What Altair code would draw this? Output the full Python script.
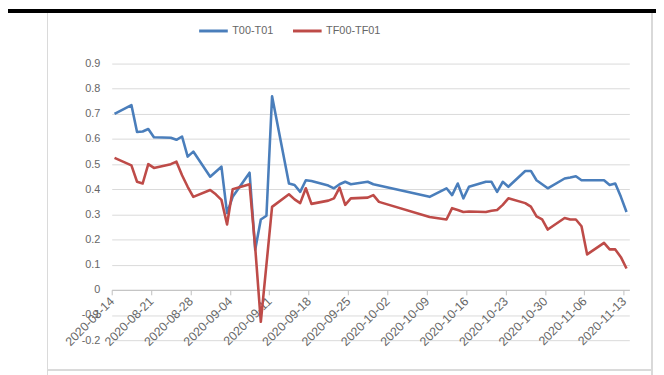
import altair as alt
import pandas as pd

# ---- data ----
dates = [
    "2020-08-14", "2020-08-17", "2020-08-18", "2020-08-19", "2020-08-20", "2020-08-21",
    "2020-08-24", "2020-08-25", "2020-08-26", "2020-08-27", "2020-08-28", "2020-08-31",
    "2020-09-01", "2020-09-02", "2020-09-03", "2020-09-04", "2020-09-07", "2020-09-08",
    "2020-09-09", "2020-09-10", "2020-09-11", "2020-09-14", "2020-09-15", "2020-09-16",
    "2020-09-17", "2020-09-18", "2020-09-21", "2020-09-22", "2020-09-23", "2020-09-24",
    "2020-09-25", "2020-09-28", "2020-09-29", "2020-09-30", "2020-10-09", "2020-10-12",
    "2020-10-13", "2020-10-14", "2020-10-15", "2020-10-16", "2020-10-19", "2020-10-20",
    "2020-10-21", "2020-10-22", "2020-10-23", "2020-10-26", "2020-10-27", "2020-10-28",
    "2020-10-29", "2020-10-30", "2020-11-02", "2020-11-03", "2020-11-04", "2020-11-05",
    "2020-11-06", "2020-11-09", "2020-11-10", "2020-11-11", "2020-11-12", "2020-11-13",
]
t00_t01 = [
    0.70, 0.735, 0.628, 0.63, 0.64, 0.607,
    0.605, 0.597, 0.61, 0.53, 0.55, 0.45,
    0.47, 0.49, 0.305, 0.37, 0.466, 0.16,
    0.28, 0.295, 0.77, 0.423, 0.417, 0.39,
    0.436, 0.433, 0.415, 0.404, 0.42, 0.43,
    0.42, 0.43, 0.42, 0.415, 0.37, 0.404,
    0.377, 0.423, 0.364, 0.41, 0.43, 0.43,
    0.39, 0.43, 0.41, 0.473, 0.473, 0.436,
    0.42, 0.404, 0.443, 0.447, 0.452, 0.436,
    0.436, 0.436, 0.417, 0.423, 0.37, 0.31,
]
tf00_tf01 = [
    0.525, 0.495, 0.43, 0.423, 0.50, 0.485,
    0.50, 0.51, 0.456, 0.41, 0.37, 0.397,
    0.38, 0.358, 0.26, 0.40, 0.42, 0.17,
    -0.127, 0.10, 0.33, 0.38, 0.36, 0.345,
    0.404, 0.342, 0.355, 0.364, 0.407, 0.338,
    0.364, 0.367, 0.377, 0.35, 0.29, 0.28,
    0.325, 0.318, 0.31, 0.312, 0.31, 0.315,
    0.318, 0.338, 0.364, 0.345, 0.331, 0.292,
    0.28, 0.24, 0.286, 0.28, 0.28, 0.253,
    0.141, 0.187, 0.161, 0.161, 0.13, 0.085,
]
series_names = ["T00-T01", "TF00-TF01"]
series_colors = ["#4A7EBB", "#BE4B48"]
x_tick_dates = [
    "2020-08-14", "2020-08-21", "2020-08-28", "2020-09-04", "2020-09-11", "2020-09-18",
    "2020-09-25", "2020-10-02", "2020-10-09", "2020-10-16", "2020-10-23", "2020-10-30",
    "2020-11-06", "2020-11-13",
]
y_ticks = [-0.2, -0.1, 0, 0.1, 0.2, 0.3, 0.4, 0.5, 0.6, 0.7, 0.8, 0.9]

# ---- table ----
rows = []
for name, vals in zip(series_names, [t00_t01, tf00_tf01]):
    for d, v in zip(dates, vals):
        rows.append({"date": d + "T12:00:00", "value": v, "series": name})
df = pd.DataFrame(rows)


def dt(s):
    y, m, d = (int(p) for p in s.split("-"))
    return alt.DateTime(year=y, month=m, date=d)


W, H = 524, 280
ymin, ymax = -0.2, 0.9
zero_px = H * (ymax - 0) / (ymax - ymin)
FONT = "Liberation Sans"
TXT = "#666666"

lines = alt.Chart(df).mark_line(strokeWidth=2.6, strokeJoin="round").encode(
    x=alt.X(
        "date:T",
        scale=alt.Scale(domain=[dt("2020-08-14"), dt("2020-11-14")]),
        axis=alt.Axis(
            title=None,
            values=[dt(s) for s in x_tick_dates],
            labelExpr="timeFormat(datum.value, '%Y-%m-%d')",
            labelAngle=-45,
            labelAlign="right",
            labelBaseline="middle",
            labelPadding=4,
            labelFontSize=12.5,
            labelColor=TXT,
            labelFont=FONT,
            grid=False,
            domainColor="#bfbfbf",
            tickColor="#bfbfbf",
            tickSize=5,
            offset=-(H - zero_px),
            labelOverlap=False,
        ),
    ),
    y=alt.Y(
        "value:Q",
        scale=alt.Scale(domain=[ymin, ymax], nice=False, zero=False),
        axis=alt.Axis(
            title=None,
            values=y_ticks,
            labelExpr="'' + (round(datum.value * 10) / 10)",
            domain=False,
            ticks=False,
            grid=True,
            gridColor="#d9d9d9",
            gridWidth=1,
            labelPadding=12,
            labelFontSize=11,
            labelColor=TXT,
            labelFont=FONT,
        ),
    ),
    color=alt.Color(
        "series:N",
        scale=alt.Scale(domain=series_names, range=series_colors),
        legend=alt.Legend(
            title=None,
            orient="none",
            legendX=87,
            legendY=-49,
            direction="horizontal",
            symbolType="stroke",
            symbolSize=841,
            symbolStrokeWidth=3,
            labelFontSize=11,
            labelColor=TXT,
            labelFont=FONT,
            labelOffset=3,
            columnPadding=13,
        ),
    ),
)

# decorative frame of the chart area and top rule
frame_left = alt.Chart(df).mark_rule(color="#d9d9d9", strokeWidth=1).encode(
    x=alt.value(-65), y=alt.value(-54), y2=alt.value(H + 40)
)
frame_right = alt.Chart(df).mark_rule(color="#d9d9d9", strokeWidth=1).encode(
    x=alt.value(W + 23), y=alt.value(-54), y2=alt.value(H + 40)
)
frame_bottom = alt.Chart(df).mark_rule(color="#d9d9d9", strokeWidth=1).encode(
    x=alt.value(-65), x2=alt.value(W + 23), y=alt.value(H + 30)
)
top_rule = alt.Chart(df).mark_rule(color="#000000", strokeWidth=3).encode(
    x=alt.value(-106), x2=alt.value(W + 30), y=alt.value(-53)
)

chart = (
    alt.layer(frame_left, frame_right, frame_bottom, top_rule, lines)
    .properties(
        width=W,
        height=H,
        autosize=alt.AutoSizeParams(type="none"),
        padding={"left": 105, "top": 54, "right": 27, "bottom": 33},
        background="#ffffff",
    )
    .configure_view(stroke=None)
)

chart.save("out.html", embed_options={"renderer": "svg", "actions": False})
